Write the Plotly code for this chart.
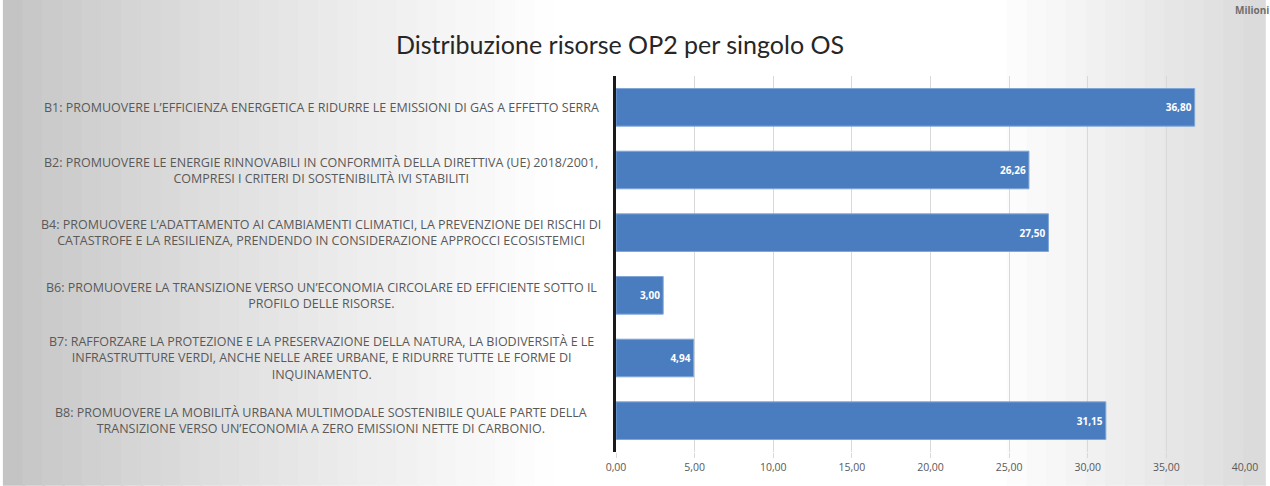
"""Distribuzione risorse OP2 per singolo OS - horizontal bar chart."""

import plotly.graph_objects as go

# Data
categories = [
    "B1: PROMUOVERE L'EFFICIENZA ENERGETICA E RIDURRE LE EMISSIONI DI GAS A EFFETTO SERRA",
    "B2: PROMUOVERE LE ENERGIE RINNOVABILI IN CONFORMITÀ DELLA DIRETTIVA (UE) 2018/2001,<br>"
    "COMPRESI I CRITERI DI SOSTENIBILITÀ IVI STABILITI",
    "B4: PROMUOVERE L'ADATTAMENTO AI CAMBIAMENTI CLIMATICI, LA PREVENZIONE DEI RISCHI DI<br>"
    "CATASTROFE E LA RESILIENZA, PRENDENDO IN CONSIDERAZIONE APPROCCI ECOSISTEMICI",
    "B6: PROMUOVERE LA TRANSIZIONE VERSO UN'ECONOMIA CIRCOLARE ED EFFICIENTE SOTTO IL<br>"
    "PROFILO DELLE RISORSE.",
    "B7: RAFFORZARE LA PROTEZIONE E LA PRESERVAZIONE DELLA NATURA, LA BIODIVERSITÀ E LE<br>"
    "INFRASTRUTTURE VERDI, ANCHE NELLE AREE URBANE, E RIDURRE TUTTE LE FORME DI<br>"
    "INQUINAMENTO.",
    "B8: PROMUOVERE LA MOBILITÀ URBANA MULTIMODALE SOSTENIBILE QUALE PARTE DELLA<br>"
    "TRANSIZIONE VERSO UN'ECONOMIA A ZERO EMISSIONI NETTE DI CARBONIO.",
]
codes = ["B1", "B2", "B4", "B6", "B7", "B8"]
values = [36.80, 26.26, 27.50, 3.00, 4.94, 31.15]
x_ticks = [0, 5, 10, 15, 20, 25, 30, 35, 40]

# Figure geometry (pixels)
W, H = 1270, 486
ML, MR, MT, MB = 616, 20, 76, 32
PW, PH = W - ML - MR, H - MT - MB

BAR_COLOR = "#4a7dbf"
TEXT_GRAY = "#595959"
GRID_GRAY = "#d9d9d9"

fig = go.Figure()

fig.add_trace(
    go.Bar(
        x=values,
        y=codes,
        orientation="h",
        marker=dict(color=BAR_COLOR, line=dict(color="#7fa6d8", width=1)),
        texttemplate="<b>%{x:.2f}</b>",
        textposition="inside",
        insidetextanchor="end",
        textfont=dict(color="white", size=10, family="Open Sans"),
        hovertemplate="%{x:.2f}<extra></extra>",
    )
)


# Background gradient: grey at the left, white in the middle, grey on the right
def _bg_level(px):
    if px < 560:
        return 194 + (255 - 194) * (px / 560) ** 0.8
    if px < 1000:
        return 255
    return 255 - (255 - 218) * ((px - 1000) / 270)


n_strips = 64
strip_w = W / n_strips
shapes = []
for i in range(n_strips):
    px0 = i * strip_w
    level = int(round(_bg_level(px0 + strip_w / 2)))
    shapes.append(
        dict(
            type="rect",
            xref="paper",
            yref="paper",
            x0=(px0 - ML - 2) / PW,
            x1=(px0 + strip_w + 1 - ML) / PW,
            y0=-(MB + 2) / PH,
            y1=(H - MB + 2) / PH,
            fillcolor=f"rgb({level},{level},{level})",
            line=dict(width=0),
            layer="below",
        )
    )

annotations = []
# Category labels, centred, multi-line
for code, label in zip(codes, categories):
    annotations.append(
        dict(
            x=(319 - ML) / PW,
            y=code,
            xref="paper",
            yref="y",
            text=label.replace("'", "’"),
            showarrow=False,
            align="center",
            xanchor="center",
            yanchor="middle",
            font=dict(size=12.5, color=TEXT_GRAY, family="Open Sans"),
        )
    )

# Unit note in the top right corner (cut off at the edge)
annotations.append(
    dict(
        x=(1238 - ML) / PW,
        y=(H - MB - 10) / PH,
        xref="paper",
        yref="paper",
        text="<b>Milioni</b>",
        showarrow=False,
        xanchor="left",
        yanchor="middle",
        font=dict(size=10, color="#6f6f6f", family="Open Sans"),
    )
)

fig.update_layout(
    width=W,
    height=H,
    margin=dict(l=ML, r=MR, t=MT, b=MB),
    paper_bgcolor="white",
    plot_bgcolor="rgba(0,0,0,0)",
    separators=",.",
    title=dict(
        text="Distribuzione risorse OP2 per singolo OS",
        x=620 / W,
        xanchor="center",
        y=1 - 45 / H,
        yanchor="middle",
        font=dict(size=25, color="#262626", family="Lato"),
    ),
    bargap=0.4,
    showlegend=False,
    shapes=shapes,
    annotations=annotations,
)

fig.update_xaxes(
    range=[0, 40],
    tickvals=x_ticks,
    tickformat=".2f",
    showgrid=True,
    gridcolor=GRID_GRAY,
    gridwidth=1,
    zeroline=False,
    showline=False,
    ticks="outside",
    ticklen=5,
    tickcolor=GRID_GRAY,
    tickfont=dict(size=10.5, color=TEXT_GRAY, family="Open Sans"),
)

fig.update_yaxes(
    autorange="reversed",
    showticklabels=False,
    showgrid=False,
    zeroline=False,
    showline=True,
    linecolor="#1a1a1a",
    linewidth=2.5,
    ticks="",
)

# drop the default page margin so the figure sits at the window's corner
fig.write_html(
    "out.html",
    config={"displayModeBar": False},
    post_script="document.body.style.margin = '0';",
)
